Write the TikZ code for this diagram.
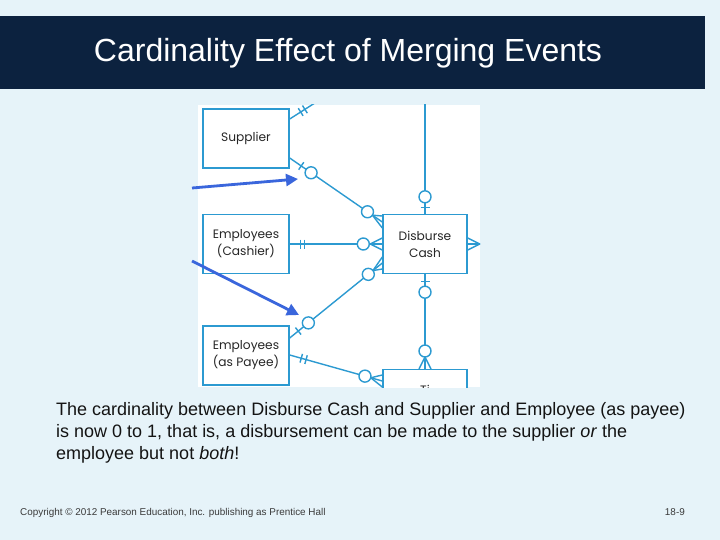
\documentclass[tikz,border=0pt]{standalone}
\usepackage{fontspec}
\setmainfont{Liberation Sans}
\newfontfamily\erfont{Poppins}
\usepackage{tikz}
\usetikzlibrary{arrows.meta, positioning, calc}
\definecolor{slidebg}{HTML}{E6F3F9}
\definecolor{titlebar}{HTML}{0C223F}
\definecolor{erblue}{HTML}{2C9AD1}
\definecolor{pointer}{HTML}{3A66DC}
\definecolor{bodytext}{HTML}{141414}
\definecolor{foottext}{HTML}{3A3A3A}

\tikzset{
  entity/.style={draw=erblue, line width=1.4pt, fill=white, minimum width=86pt,
    minimum height=59pt, inner sep=0pt, align=center,
    font=\erfont\fontsize{12.2}{17}\selectfont, text=black!85},
  erlabel/.style={inner sep=0pt, font=\erfont\fontsize{12.2}{17}\selectfont, text=black!85},
  erline/.style={draw=erblue, line width=1.4pt},
  pointerarrow/.style={draw=pointer, line width=2.8pt, -{Triangle[length=12pt,width=12pt]}},
  titletext/.style={font=\fontsize{32}{34}\selectfont, text=white},
  bodyline/.style={anchor=base west, inner sep=0pt, font=\fontsize{18}{22}\selectfont, text=bodytext},
  footline/.style={anchor=base west, inner sep=0pt, font=\fontsize{9.9}{12}\selectfont, text=foottext}
}

% ER end markers: bar, open circle, crow's foot
\newcommand{\erbar}[3]{\draw[erline] ($(#1)!#3!(#2)!4.5pt!90:(#2)$) -- ($(#1)!#3!(#2)!4.5pt!-90:(#2)$);}
\newcommand{\ercirc}[3]{\filldraw[erline, fill=white] ($(#1)!#3!(#2)$) circle (6pt);}
\newcommand{\erfoot}[3]{\draw[erline] ($(#1)+(#3)$) -- ($(#1)!12pt!(#2)$) -- ($(#1)-(#3)$);}

\begin{document}
\begin{tikzpicture}[x=1pt, y=-1pt]
  \useasboundingbox (0,0) rectangle (720,540);
  \fill[slidebg] (0,0) rectangle (720,540);

  %% title bar
  \fill[titlebar] (0,16) rectangle (705,89);
  \node[titletext] (title) at (348,53) {Cardinality Effect of Merging Events};

  %% ER diagram panel
  \begin{scope}
    \clip (198,105) rectangle (480,387);
    \fill[white] (198,105) rectangle (480,387);

    \node[entity] (supplier) at (246,138.5) {Supplier};
    \node[entity] (cashier) at (246,244) {Employees\\(Cashier)};
    \node[entity] (payee) at (246,355.5) {Employees\\(as Payee)};
    \node[entity, minimum width=84pt] (disburse) at (425,244) {Disburse\\Cash};
    \node[entity, minimum width=84pt, minimum height=60pt, anchor=north] (timecard) at (425,369) {};
    \node[erlabel, anchor=north] (timecardtext) at ([yshift=-16pt]timecard.north) {Ti};

    %% connector end points
    \coordinate (supTop) at (supplier.east |- 0,119);
    \coordinate (offTop) at (318,101);
    \coordinate (offAbove) at (disburse.north |- 0,100);
    \coordinate (supLow) at (supplier.east |- 0,158);
    \coordinate (disbA) at (disburse.west |- 0,222);
    \coordinate (payA) at (payee.east |- 0,338);
    \coordinate (disbB) at (disburse.west |- 0,263);
    \coordinate (payB) at (payee.east |- 0,355);
    \coordinate (timeA) at (timecard.west |- 0,381);
    \coordinate (offRight) at (492,244);

    %% connectors
    \foreach \a/\b in {supTop/offTop, offAbove/disburse.north, supLow/disbA,
      cashier.east/disburse.west, payA/disbB, payB/timeA,
      disburse.south/timecard.north, disburse.east/offRight}{
      \draw[erline] (\a) -- (\b);
    }

    %% Supplier -> (off top)
    \erbar{supTop}{offTop}{13pt}
    \erbar{supTop}{offTop}{18pt}
    %% (off top) -> Disburse Cash
    \erbar{disburse.north}{offAbove}{6pt}
    \ercirc{disburse.north}{offAbove}{17pt}
    %% Supplier -- Disburse Cash
    \erbar{supLow}{disbA}{14pt}
    \ercirc{supLow}{disbA}{26pt}
    \erfoot{disbA}{supLow}{0,6}
    \ercirc{disbA}{supLow}{18pt}
    %% Cashier -- Disburse Cash
    \erbar{cashier.east}{disburse.west}{11pt}
    \erbar{cashier.east}{disburse.west}{15pt}
    \erfoot{disburse.west}{cashier.east}{0,6}
    \ercirc{disburse.west}{cashier.east}{19pt}
    %% Payee -- Disburse Cash
    \erbar{payA}{disbB}{11pt}
    \ercirc{payA}{disbB}{24pt}
    \erfoot{disbB}{payA}{0,6}
    \ercirc{disbB}{payA}{18pt}
    %% Payee -- bottom event
    \erbar{payB}{timeA}{12pt}
    \erbar{payB}{timeA}{17pt}
    \erfoot{timeA}{payB}{0,6}
    \ercirc{timeA}{payB}{18pt}
    %% Disburse Cash -- bottom event
    \erbar{disburse.south}{timecard.north}{7pt}
    \ercirc{disburse.south}{timecard.north}{18pt}
    \erfoot{timecard.north}{disburse.south}{6,0}
    \ercirc{timecard.north}{disburse.south}{18pt}
    %% Disburse Cash -> (off right)
    \erfoot{disburse.east}{offRight}{0,6}
  \end{scope}

  %% pointer arrows
  \coordinate (ptrAstart) at (192,188);
  \coordinate (ptrAend) at (298,179);
  \coordinate (ptrBstart) at (192,261);
  \coordinate (ptrBend) at (299,315);
  \draw[pointerarrow] (ptrAstart) -- (ptrAend);
  \draw[pointerarrow] (ptrBstart) -- (ptrBend);

  %% explanation
  \foreach \y/\n/\txt in {
    415/body1/{The cardinality between Disburse Cash and Supplier and Employee (as payee)},
    437/body2/{is now 0 to 1, that is, a disbursement can be made to the supplier \textit{or} the},
    459/body3/{employee but not \textit{both}!}
  }{
    \node[bodyline] (\n) at (56,\y) {\txt};
  }

  %% footer
  \node[footline] (copyright) at (20,515) {Copyright \textcopyright{} 2012 Pearson Education, Inc. publishing as Prentice Hall};
  \node[footline, anchor=base east] (pagenum) at (685,515) {18-9};

\end{tikzpicture}
\end{document}
